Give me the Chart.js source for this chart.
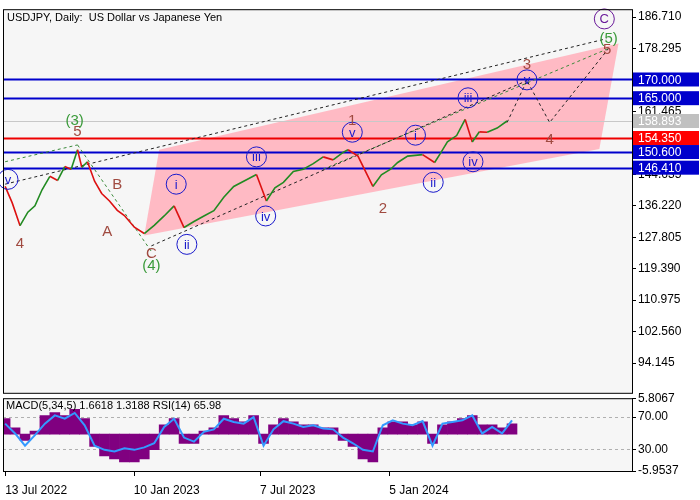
<!DOCTYPE html>
<html>
<head>
<meta charset="utf-8">
<script src="https://cdn.jsdelivr.net/npm/chart.js@4/dist/chart.umd.min.js"></script>
<style>
  body { margin: 0; background: #fff; }
  #wrap { position: relative; width: 700px; height: 500px; }
  #main { position: absolute; left: 0; top: 0; }
  #ind { position: absolute; left: 0; top: 389px; }
</style>
</head>
<body>
<div id="wrap">
  <canvas id="main" width="700" height="402"></canvas>
  <canvas id="ind" width="700" height="106"></canvas>
</div>
<script>
// x values are days after 13 Jul 2022
const priceDays = [0, 10, 21, 32, 42, 52, 63, 74, 84, 93, 102, 108, 116, 126, 136, 147, 158, 168, 182, 196, 210, 224, 238, 252, 266, 280, 294, 308, 322, 338, 354, 368, 380, 392, 406, 420, 434, 448, 462, 476, 483, 497, 518, 530, 543, 553, 567, 588, 605, 614, 623, 636, 648, 658, 668, 679, 693, 707];
const priceValues = [141.4, 137.0, 130.9, 134.5, 136.2, 140.5, 144.1, 143.0, 146.7, 146.0, 151.2, 146.5, 148.0, 142.8, 139.5, 137.5, 135.0, 133.6, 130.5, 128.8, 131.0, 133.5, 136.2, 130.4, 132.0, 133.5, 134.9, 138.5, 141.4, 143.0, 144.6, 137.5, 141.0, 142.5, 145.4, 146.0, 147.5, 149.3, 148.5, 150.5, 151.2, 149.5, 141.4, 144.5, 146.0, 147.8, 149.5, 149.9, 147.8, 150.5, 153.3, 155.0, 159.3, 153.3, 156.0, 155.9, 157.0, 158.9];

const priceTicks = [186.710, 178.295, 161.465, 144.635, 136.220, 127.805, 119.390, 110.975, 102.560, 94.145];

const levelValues = [170.0, 165.0, 158.893, 154.35, 150.6, 146.41];
const levelColors = ["#0000cc", "#0000cc", "#c0c0c0", "#ff0000", "#0000cc", "#0000cc"];
const levelLines = ["#0000cc", "#0000cc", "#c8c8c8", "#ee0000", "#0000cc", "#0000cc"];

const channel = [[196, 128.3], [217, 151.2], [864, 179.6], [837, 151.4]];
const topLine = [[0, 142], [847, 180.9]];
const projection = [[707, 158.5], [735, 169.7], [767, 158.5], [850, 178.3]];
const midLine = [[206, 125.5], [735, 169.7]];
const greenLines = [[[0, 148], [102, 152.5]], [[102, 152.5], [206, 124]], [[448, 146], [850, 178.3]]];

// [day, price, text, kind]  kind: b = blue circle, p = purple circle, r = brown, g = green
const waveLabels = [
  [4, 143.3, "v", "b"], [241, 142, "i", "b"], [256, 125.9, "ii", "b"], [354, 149.3, "iii", "b"],
  [367, 133.5, "iv", "b"], [489, 155.9, "v", "b"], [578, 155.1, "i", "b"], [603, 142.5, "ii", "b"],
  [652, 165.1, "iii", "b"], [659, 148, "iv", "b"], [735, 169.9, "v", "b"], [844, 186.2, "C", "p"],
  [21, 126.2, "4", "r"], [102, 156.3, "5", "r"], [158, 142, "B", "r"], [144, 129.6, "A", "r"],
  [206, 123.5, "C", "r"], [489, 159.1, "1", "r"], [532, 135.7, "2", "r"], [735, 174.3, "3", "r"],
  [767, 154.1, "4", "r"], [848, 178.3, "5", "r"],
  [98, 159.1, "(3)", "g"], [206, 120.4, "(4)", "g"], [850, 181.2, "(5)", "g"]
];

// indicator, one sample every 14 days
const macdValues = [2.5, 1.0, -1.0, 0.5, 3.0, 3.5, 3.0, 4.0, 2.5, -2.0, -3.5, -4.0, -4.5, -4.5, -4.0, -2.5, 1.5, 2.5, -1.5, -1.5, 0.5, 1.0, 3.0, 2.5, 2.0, 3.0, -1.5, 1.5, 2.5, 2.0, 1.5, 1.5, 1.0, 1.0, -1.0, -2.0, -4.0, -4.5, 1.0, 2.0, 2.0, 1.5, 2.0, -1.5, 1.5, 2.0, 2.5, 3.0, 1.5, 1.5, 1.0, 1.66];
const rsiValues = [62, 50, 35, 48, 62, 72, 68, 75, 60, 35, 30, 28, 32, 30, 33, 38, 58, 68, 45, 40, 52, 55, 68, 64, 62, 70, 35, 55, 65, 62, 58, 60, 56, 55, 45, 38, 30, 28, 60, 66, 62, 60, 65, 35, 62, 64, 66, 72, 50, 58, 50, 65.98];

const dateTicks = [0, 181, 359, 541];
const dateLabels = ["13 Jul 2022", "10 Jan 2023", "7 Jul 2023", "5 Jan 2024"];

const FONT = "Liberation Sans";
const X_MIN = -3, X_MAX = 883;

const pts = arr => arr.map(p => ({ x: p[0], y: p[1] }));
const dashed = (data, color) => ({
  type: "line", data: pts(data), borderColor: color, borderWidth: 1, borderDash: [3, 3],
  pointRadius: 0, fill: false, order: 2
});

const frame = {
  id: "frame",
  beforeDraw(chart) {
    const { ctx, chartArea: a } = chart;
    ctx.save();
    ctx.fillStyle = "#f6f6f6";
    ctx.fillRect(a.left, a.top, a.right - a.left, a.bottom - a.top);
    ctx.restore();
  },
  afterDraw(chart) {
    const { ctx, chartArea: a } = chart;
    ctx.save();
    ctx.strokeStyle = "#000";
    ctx.lineWidth = 1;
    ctx.strokeRect(a.left + 0.5, a.top + 0.5, a.right - a.left, a.bottom - a.top);
    ctx.restore();
  }
};

const levels = {
  id: "levels",
  beforeDatasetsDraw(chart) {
    const { ctx, chartArea: a, scales: { x, y } } = chart;
    ctx.save();
    ctx.beginPath();
    ctx.rect(a.left, a.top, a.right - a.left, a.bottom - a.top);
    ctx.clip();
    ctx.fillStyle = "rgba(255,182,193,0.95)";
    ctx.beginPath();
    channel.forEach(([d, v], i) => {
      const px = x.getPixelForValue(d), py = y.getPixelForValue(v);
      if (i === 0) ctx.moveTo(px, py); else ctx.lineTo(px, py);
    });
    ctx.closePath();
    ctx.fill();
    levelValues.forEach((v, i) => {
      const py = Math.round(y.getPixelForValue(v)) + 0.5;
      ctx.strokeStyle = levelLines[i];
      ctx.lineWidth = i === 2 ? 1 : 2;
      ctx.beginPath(); ctx.moveTo(a.left, py); ctx.lineTo(a.right, py); ctx.stroke();
    });
    ctx.restore();
  },
  afterDraw(chart) {
    const { ctx, chartArea: a, scales: { y } } = chart;
    ctx.save();
    ctx.font = "12px " + FONT;
    ctx.textBaseline = "middle";
    levelValues.forEach((v, i) => {
      const py = y.getPixelForValue(v);
      ctx.fillStyle = levelColors[i];
      ctx.fillRect(a.right + 1, py - 7, 698 - a.right, 14);
      ctx.fillStyle = "#fff";
      ctx.fillText(v.toFixed(3), a.right + 6, py + 1);
    });
    ctx.fillStyle = "#000";
    ctx.font = "11px " + FONT;
    ctx.textBaseline = "top";
    ctx.fillText("USDJPY, Daily:  US Dollar vs Japanese Yen", a.left + 4, a.top + 3);
    ctx.restore();
  }
};

const waves = {
  id: "waves",
  afterDatasetsDraw(chart) {
    const { ctx, scales: { x, y } } = chart;
    const colors = { b: "#1a1acc", p: "#6a1a9a", r: "#a04a40", g: "#3a9a3a" };
    ctx.save();
    ctx.textAlign = "center";
    ctx.textBaseline = "middle";
    waveLabels.forEach(([d, v, t, k]) => {
      const px = x.getPixelForValue(d), py = y.getPixelForValue(v);
      ctx.fillStyle = colors[k];
      ctx.strokeStyle = colors[k];
      if (k === "b" || k === "p") {
        ctx.lineWidth = 1;
        ctx.beginPath(); ctx.arc(px, py, 10, 0, Math.PI * 2); ctx.stroke();
        ctx.font = "13px " + FONT;
      } else {
        ctx.font = "15px " + FONT;
      }
      ctx.fillText(t, px, py + 1);
    });
    ctx.restore();
  }
};

new Chart(document.getElementById("main"), {
  type: "line",
  data: {
    datasets: [
      dashed(topLine, "#222"),
      dashed(midLine, "#222"),
      dashed(projection, "#222"),
      ...greenLines.map(l => dashed(l, "#3a8a3a")),
      {
        data: priceDays.map((d, i) => ({ x: d, y: priceValues[i] })),
        borderWidth: 1.6, pointRadius: 0, fill: false, order: 1,
        segment: { borderColor: c => c.p1.parsed.y >= c.p0.parsed.y ? "#228b22" : "#dd1111" }
      }
    ]
  },
  options: {
    responsive: false, animation: false,
    layout: { padding: { left: 3, top: 5, bottom: 0 } },
    plugins: { legend: { display: false }, tooltip: { enabled: false } },
    scales: {
      x: { type: "linear", min: X_MIN, max: X_MAX, display: false },
      y: {
        position: "right", min: 86.2, max: 188.8,
        afterBuildTicks: s => { s.ticks = priceTicks.map(v => ({ value: v })); },
        afterFit: s => { s.width = 68; },
        grid: { drawOnChartArea: false, tickLength: 4, color: "#000" },
        border: { display: false },
        ticks: { color: "#000", font: { family: FONT, size: 12 }, padding: 2, callback: v => v.toFixed(3) }
      }
    }
  },
  plugins: [frame, levels, waves]
});

const rsiTicks = [93, 70, 30, 4.2];
const rsiTickLabels = ["5.8067", "70.00", "30.00", "-5.9537"];

const indText = {
  id: "indText",
  afterDraw(chart) {
    const { ctx, chartArea: a, scales: { x } } = chart;
    ctx.save();
    ctx.fillStyle = "#000";
    ctx.font = "11px " + FONT;
    ctx.textBaseline = "top";
    ctx.fillText("MACD(5,34,5) 1.6618 1.3188 RSI(14) 65.98", a.left + 3, a.top + 2);
    ctx.strokeStyle = "#000";
    dateTicks.forEach(d => {
      const px = Math.round(x.getPixelForValue(d)) + 0.5;
      ctx.beginPath(); ctx.moveTo(px, a.bottom); ctx.lineTo(px, a.bottom + 5); ctx.stroke();
    });
    ctx.restore();
  }
};

new Chart(document.getElementById("ind"), {
  data: {
    datasets: [
      {
        type: "line", yAxisID: "y2", order: 1,
        data: rsiValues.map((v, i) => ({ x: i * 14, y: v })),
        borderColor: "#3399ff", borderWidth: 2, pointRadius: 0, tension: 0
      },
      {
        type: "bar", yAxisID: "y", order: 2,
        data: macdValues.map((v, i) => ({ x: i * 14, y: v })),
        backgroundColor: "#800080", barPercentage: 1, categoryPercentage: 1
      }
    ]
  },
  options: {
    responsive: false, animation: false,
    layout: { padding: { left: 3, top: 0 } },
    plugins: { legend: { display: false }, tooltip: { enabled: false } },
    scales: {
      x: {
        type: "linear", min: X_MIN, max: X_MAX, offset: false,
        afterBuildTicks: s => { s.ticks = dateTicks.map(v => ({ value: v })); },
        afterFit: s => { s.height = 24; },
        grid: { display: false }, border: { display: false },
        ticks: {
          color: "#000", font: { family: FONT, size: 12 }, padding: 4, maxRotation: 0, align: "start",
          callback: v => dateLabels[dateTicks.indexOf(v)]
        }
      },
      y: { min: -5.9537, max: 5.8067, display: false },
      y2: {
        position: "right", min: 4.2, max: 93,
        afterBuildTicks: s => { s.ticks = rsiTicks.map(v => ({ value: v })); },
        afterFit: s => { s.width = 68; },
        grid: {
          tickLength: 4,
          color: c => (c.tick && (c.tick.value === 70 || c.tick.value === 30)) ? "#b0b0b0" : "rgba(0,0,0,0)",
          tickColor: "#000"
        },
        border: { display: false, dash: [3, 3] },
        ticks: { color: "#000", font: { family: FONT, size: 12 }, padding: 2, callback: v => rsiTickLabels[rsiTicks.indexOf(v)] }
      }
    }
  },
  plugins: [frame, indText]
});
</script>
</body>
</html>
